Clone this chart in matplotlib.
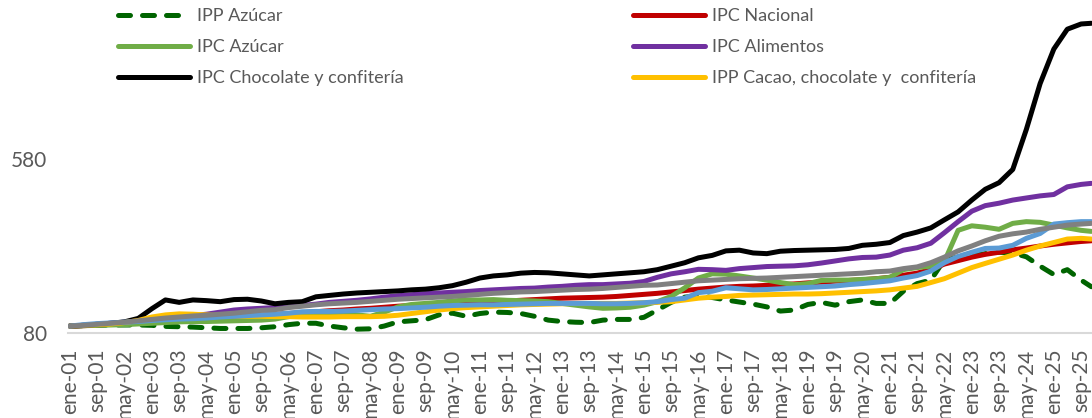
import matplotlib
matplotlib.use("Agg")
import matplotlib.pyplot as plt
import pandas as pd

# fechas de muestreo (cada 4 meses) y valores
fechas = list(pd.date_range("2001-01-01", "2025-09-01", freq="4MS")) + [pd.Timestamp("2025-12-01")]

ipp_azucar = [100, 101, 102, 103, 103, 103, 102, 99, 98, 97,
              95, 93, 93, 93, 95, 98, 104, 108, 108, 100,
              95, 91, 92, 100, 112, 115, 118, 132, 137, 128,
              136, 140, 139, 136, 128, 117, 113, 111, 110, 117,
              119, 119, 125, 146, 168, 183, 187, 182, 175, 169,
              163, 155, 143, 146, 162, 168, 160, 170, 175, 165,
              165, 200, 222, 232, 290, 298, 302, 308, 312, 310,
              299, 272, 248, 262, 232, 213]
ipc_nacional = [100, 101, 103, 105, 107, 110, 113, 116, 118, 121,
                123, 125, 127, 129, 131, 133, 136, 138, 141, 144,
                146, 149, 151, 154, 157, 159, 161, 163, 164, 166,
                168, 170, 172, 174, 176, 178, 180, 181, 182, 183,
                185, 188, 191, 194, 198, 202, 206, 209, 212, 214,
                215, 217, 219, 221, 224, 226, 229, 231, 233, 236,
                240, 246, 252, 262, 278, 288, 298, 306, 312, 319,
                324, 330, 335, 339, 343, 345]
ipc_azucar = [100, 101, 102, 103, 104, 106, 108, 110, 112, 113,
              113, 114, 115, 116, 117, 120, 127, 133, 137, 138,
              136, 132, 128, 140, 155, 162, 165, 168, 172, 175,
              175, 176, 174, 173, 172, 170, 165, 160, 155, 151,
              152, 154, 160, 170, 185, 210, 238, 250, 249, 244,
              238, 232, 225, 219, 222, 231, 232, 232, 234, 236,
              240, 262, 268, 272, 285, 375, 388, 384, 378, 395,
              400, 398, 390, 382, 375, 372]
ipc_alimentos = [100, 102, 105, 108, 111, 115, 119, 123, 127, 130,
                 134, 140, 146, 149, 151, 153, 155, 159, 163, 168,
                 171, 174, 178, 183, 187, 190, 193, 195, 197, 199,
                 202, 204, 206, 208, 209, 212, 214, 217, 219, 219,
                 221, 223, 228, 240, 250, 256, 263, 262, 260, 265,
                 268, 271, 272, 273, 276, 281, 287, 293, 297, 298,
                 304, 318, 325, 338, 368, 400, 430, 446, 453, 462,
                 468, 474, 478, 500, 507, 510]
ipc_chocolate = [100, 102, 105, 108, 112, 122, 150, 175, 168, 175,
                 173, 170, 176, 177, 172, 164, 168, 170, 184, 188,
                 192, 195, 197, 199, 201, 204, 206, 210, 216, 226,
                 238, 244, 247, 252, 254, 253, 250, 247, 244, 247,
                 250, 253, 256, 262, 272, 282, 296, 303, 316, 318,
                 310, 308, 315, 317, 318, 319, 320, 323, 332, 335,
                 340, 360, 370, 382, 405, 428, 462, 493, 512, 550,
                 665, 797, 896, 953, 968, 970]
ipp_cacao = [100, 102, 104, 106, 110, 116, 126, 132, 135, 134,
             132, 130, 129, 128, 128, 127, 127, 126, 126, 126,
             127, 127, 127, 128, 131, 136, 141, 146, 150, 153,
             155, 157, 159, 161, 162, 163, 164, 165, 165, 165,
             165, 166, 167, 168, 170, 175, 180, 183, 185, 188,
             189, 190, 191, 192, 192, 193, 195, 197, 199, 201,
             204, 209, 214, 225, 236, 252, 268, 280, 292, 304,
             318, 330, 340, 350, 352, 350]
# dos series sin leyenda visible (gris y azul)
serie_azul = [100, 104, 107, 109, 111, 113, 116, 118, 120, 121,
              123, 126, 128, 130, 132, 134, 137, 141, 142, 142,
              143, 145, 147, 149, 150, 152, 154, 157, 159, 160,
              161, 161, 162, 163, 164, 165, 165, 165, 165, 164,
              164, 165, 167, 170, 176, 180, 196, 200, 210, 207,
              204, 205, 207, 209, 211, 213, 215, 219, 222, 226,
              230, 238, 245, 258, 282, 300, 312, 323, 324, 332,
              352, 366, 393, 397, 400, 400]
serie_gris = [100, 102, 105, 108, 111, 115, 119, 123, 126, 129,
              131, 134, 137, 141, 145, 147, 153, 157, 161, 164,
              166, 168, 171, 174, 177, 179, 181, 183, 185, 188,
              191, 194, 196, 198, 199, 201, 203, 205, 206, 208,
              211, 214, 217, 218, 222, 226, 230, 232, 234, 236,
              237, 238, 240, 242, 244, 246, 248, 250, 252, 256,
              258, 265, 270, 282, 298, 316, 330, 345, 358, 365,
              370, 378, 384, 390, 393, 395]

etiquetas_x = ["ene-01", "sep-01", "may-02", "ene-03", "sep-03", "may-04", "ene-05", "sep-05",
               "may-06", "ene-07", "sep-07", "may-08", "ene-09", "sep-09", "may-10", "ene-11",
               "sep-11", "may-12", "ene-13", "sep-13", "may-14", "ene-15", "sep-15", "may-16",
               "ene-17", "sep-17", "may-18", "ene-19", "sep-19", "may-20", "ene-21", "sep-21",
               "may-22", "ene-23", "sep-23", "may-24", "ene-25", "sep-25"]
fechas_x = pd.date_range("2001-01-01", "2025-09-01", freq="8MS")
ticks_y = [80, 580]

plt.rcParams['font.family'] = ['Lato', 'DejaVu Sans']
gris_txt = '#595959'
lw = 3.6

fig = plt.figure(figsize=(10.92, 4.18), dpi=100)
ax = fig.add_axes([68 / 1092, 1 - 333 / 418, 1 - 68 / 1092, 333 / 418])

l_ipp, = ax.plot(fechas, ipp_azucar, color='#006400', lw=lw, linestyle=(0, (2.4, 2.4)),
                 dash_capstyle='round', label='IPP Azúcar')
l_nac, = ax.plot(fechas, ipc_nacional, color='#C00000', lw=lw, solid_capstyle='round', label='IPC Nacional')
l_az, = ax.plot(fechas, ipc_azucar, color='#70AD47', lw=lw, solid_capstyle='round', label='IPC Azúcar')
l_ali, = ax.plot(fechas, ipc_alimentos, color='#7030A0', lw=lw, solid_capstyle='round', label='IPC Alimentos')
l_cho, = ax.plot(fechas, ipc_chocolate, color='black', lw=lw, solid_capstyle='round',
                 label='IPC Chocolate y confitería')
l_cac, = ax.plot(fechas, ipp_cacao, color='#FFC000', lw=lw, solid_capstyle='round',
                 label='IPP Cacao, chocolate y  confitería')
ax.plot(fechas, serie_azul, color='#5B9BD5', lw=lw, solid_capstyle='round')
ax.plot(fechas, serie_gris, color='#808080', lw=lw, solid_capstyle='round')

ax.set_xlim(pd.Timestamp("2000-12-14"), pd.Timestamp("2025-12-07"))
ax.set_ylim(80, 80 + 333 * 500 / 174)
ax.set_yticks(ticks_y)
ax.set_xticks(fechas_x)
ax.set_xticklabels(etiquetas_x, rotation=90)
ax.tick_params(axis='x', length=0, pad=11, labelsize=15, labelcolor=gris_txt)
ax.tick_params(axis='y', length=0, pad=15, labelsize=15, labelcolor=gris_txt)

for s in ['top', 'right', 'left']:
    ax.spines[s].set_visible(False)
ax.spines['bottom'].set_color('#D9D9D9')
ax.spines['bottom'].set_linewidth(1.5)
ax.spines['bottom'].set_zorder(0)

# leyenda en dos columnas (dos bloques)
opts = dict(loc='upper left', frameon=False, fontsize=13, handlelength=4.0, handletextpad=0.4,
            labelspacing=0.83, borderpad=0, borderaxespad=0, labelcolor=gris_txt)
leg1 = ax.legend(handles=[l_ipp, l_az, l_cho], bbox_to_anchor=(118 / 1092, 1 - 8 / 418),
                 bbox_transform=fig.transFigure, **opts)
ax.add_artist(leg1)
ax.legend(handles=[l_nac, l_ali, l_cac], bbox_to_anchor=(633 / 1092, 1 - 8 / 418),
          bbox_transform=fig.transFigure, **opts)

fig.savefig("out.png", dpi=100)
